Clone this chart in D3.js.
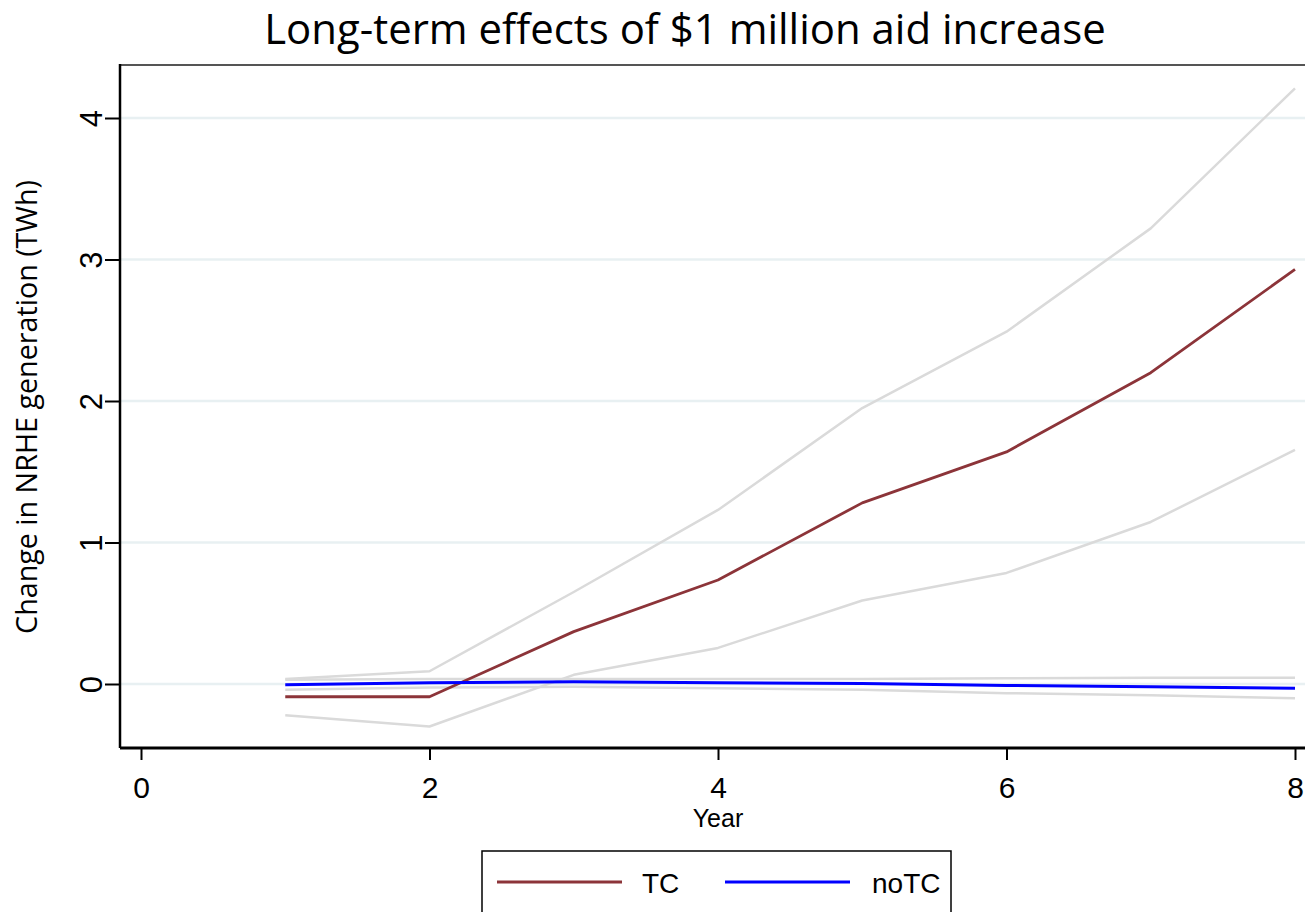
<!DOCTYPE html>
<html>
<head>
<meta charset="utf-8">
<script src="https://cdn.jsdelivr.net/npm/d3@7"></script>
<style>
  html, body { margin: 0; padding: 0; background: #fff; }
  svg { display: block; }
</style>
</head>
<body>
<svg id="chart" width="1305" height="912"></svg>
<script>
// Years after the aid increase
const years = [1, 2, 3, 4, 5, 6, 7, 8];

// Effect with technical cooperation (TC), point estimate and 95% band
const tcEstimate = [-0.09, -0.09, 0.37, 0.735, 1.28, 1.64, 2.20, 2.93];
const tcUpper    = [0.035, 0.09, 0.65, 1.23, 1.95, 2.49, 3.22, 4.21];
const tcLower    = [-0.22, -0.30, 0.065, 0.255, 0.59, 0.785, 1.145, 1.655];

// Effect without technical cooperation (noTC), point estimate and 95% band
const noTcEstimate = [-0.005, 0.008, 0.016, 0.008, 0.004, -0.01, -0.02, -0.03];
const noTcUpper    = [0.03, 0.035, 0.035, 0.035, 0.035, 0.04, 0.045, 0.045];
const noTcLower    = [-0.04, -0.025, -0.02, -0.03, -0.04, -0.065, -0.08, -0.10];

// Axis ticks
const xTicks = [0, 2, 4, 6, 8];
const yTicks = [0, 1, 2, 3, 4];

const seriesNames = ["TC", "noTC"];
const seriesColors = ["#8c3439", "#0000ff"];

const svg = d3.select("#chart");
const W = 1305, H = 912;

const frame = { left: 120, top: 65, bottom: 748, right: W };
const x = d3.scaleLinear().domain([0, 8]).range([141, 1295]);
const y = d3.scaleLinear().domain([0, 4]).range([684, 118]);

// Title
const title = svg.append("text")
  .attr("x", 685).attr("y", 44)
  .attr("text-anchor", "middle")
  .style("font-family", "'Open Sans', 'Noto Sans', sans-serif")
  .style("font-size", "40px")
  .attr("fill", "#000")
  .text("Long-term effects of $1 million aid increase");
// Fit the title to its width
{
  const w = title.node().getComputedTextLength();
  title.style("font-size", (40 * 842 / w) + "px");
}

// Horizontal gridlines
svg.append("g")
  .selectAll("line")
  .data(yTicks)
  .join("line")
  .attr("x1", frame.left).attr("x2", frame.right)
  .attr("y1", d => y(d)).attr("y2", d => y(d))
  .attr("stroke", "#e8f0f2")
  .attr("stroke-width", 2.5);

// Top frame line
svg.append("line")
  .attr("x1", frame.left).attr("x2", frame.right)
  .attr("y1", frame.top).attr("y2", frame.top)
  .attr("stroke", "#555")
  .attr("stroke-width", 2);

const line = d3.line().x(d => x(d[0])).y(d => y(d[1]));
const pairs = vals => years.map((yr, i) => [yr, vals[i]]);

// Confidence bands drawn as light gray lines
const bandGroup = svg.append("g");
[tcUpper, tcLower, noTcUpper, noTcLower].forEach(vals => {
  bandGroup.append("path")
    .attr("d", line(pairs(vals)))
    .attr("fill", "none")
    .attr("stroke", "#dadada")
    .attr("stroke-width", 2.5)
    .attr("stroke-linejoin", "round");
});

// Point estimates
svg.append("path")
  .attr("d", line(pairs(tcEstimate)))
  .attr("fill", "none")
  .attr("stroke", seriesColors[0])
  .attr("stroke-width", 2.8)
  .attr("stroke-linejoin", "round");

svg.append("path")
  .attr("d", line(pairs(noTcEstimate)))
  .attr("fill", "none")
  .attr("stroke", seriesColors[1])
  .attr("stroke-width", 3)
  .attr("stroke-linejoin", "round");

// Y axis
const yAxis = svg.append("g")
  .attr("transform", `translate(${frame.left},0)`)
  .call(d3.axisLeft(y).tickValues(yTicks).tickSize(15).tickFormat(d3.format("d")));
yAxis.select(".domain").remove();
yAxis.selectAll(".tick line").attr("stroke", "#000").attr("stroke-width", 2);
yAxis.selectAll(".tick text")
  .attr("x", null).attr("dy", null)
  .attr("transform", "translate(-18,0) rotate(-90)")
  .attr("text-anchor", "middle")
  .attr("y", 0)
  .style("font-family", "'Liberation Sans', Arial, sans-serif")
  .style("font-size", "31px")
  .attr("fill", "#000");
svg.append("line")
  .attr("x1", frame.left).attr("x2", frame.left)
  .attr("y1", frame.top - 1).attr("y2", frame.bottom)
  .attr("stroke", "#000").attr("stroke-width", 2.5);

// X axis
const xAxis = svg.append("g")
  .attr("transform", `translate(0,${frame.bottom})`)
  .call(d3.axisBottom(x).tickValues(xTicks).tickSize(12).tickFormat(d3.format("d")));
xAxis.select(".domain").remove();
xAxis.selectAll(".tick line").attr("stroke", "#000").attr("stroke-width", 2);
xAxis.selectAll(".tick text")
  .attr("y", 50).attr("dy", null)
  .style("font-family", "'Liberation Sans', Arial, sans-serif")
  .style("font-size", "30px")
  .attr("fill", "#000");
svg.append("line")
  .attr("x1", frame.left).attr("x2", frame.right)
  .attr("y1", frame.bottom).attr("y2", frame.bottom)
  .attr("stroke", "#000").attr("stroke-width", 3);

// Axis titles
svg.append("text")
  .attr("x", 718).attr("y", 827)
  .attr("text-anchor", "middle")
  .style("font-family", "'Liberation Sans', Arial, sans-serif")
  .style("font-size", "25px")
  .attr("fill", "#000")
  .text("Year");

const yTitle = svg.append("text")
  .attr("transform", "translate(37,407) rotate(-90)")
  .attr("text-anchor", "middle")
  .style("font-family", "'Open Sans', 'Noto Sans', sans-serif")
  .style("font-size", "25px")
  .attr("fill", "#000")
  .text("Change in NRHE generation (TWh)");
{
  const w = yTitle.node().getComputedTextLength();
  yTitle.style("font-size", (25 * 454 / w) + "px");
}

// Legend
const legend = svg.append("g");
legend.append("rect")
  .attr("x", 482).attr("y", 851)
  .attr("width", 469).attr("height", 80)
  .attr("fill", "#fff")
  .attr("stroke", "#000")
  .attr("stroke-width", 1.5);

const legendItems = [
  { name: seriesNames[0], color: seriesColors[0], x1: 497, x2: 622, tx: 642, w: 2.8 },
  { name: seriesNames[1], color: seriesColors[1], x1: 725, x2: 850, tx: 872, w: 3 }
];
legendItems.forEach(it => {
  legend.append("line")
    .attr("x1", it.x1).attr("x2", it.x2)
    .attr("y1", 882).attr("y2", 882)
    .attr("stroke", it.color).attr("stroke-width", it.w);
  legend.append("text")
    .attr("x", it.tx).attr("y", 893)
    .style("font-family", "'Liberation Sans', Arial, sans-serif")
    .style("font-size", "28px")
    .attr("fill", "#000")
    .text(it.name);
});
</script>
</body>
</html>
